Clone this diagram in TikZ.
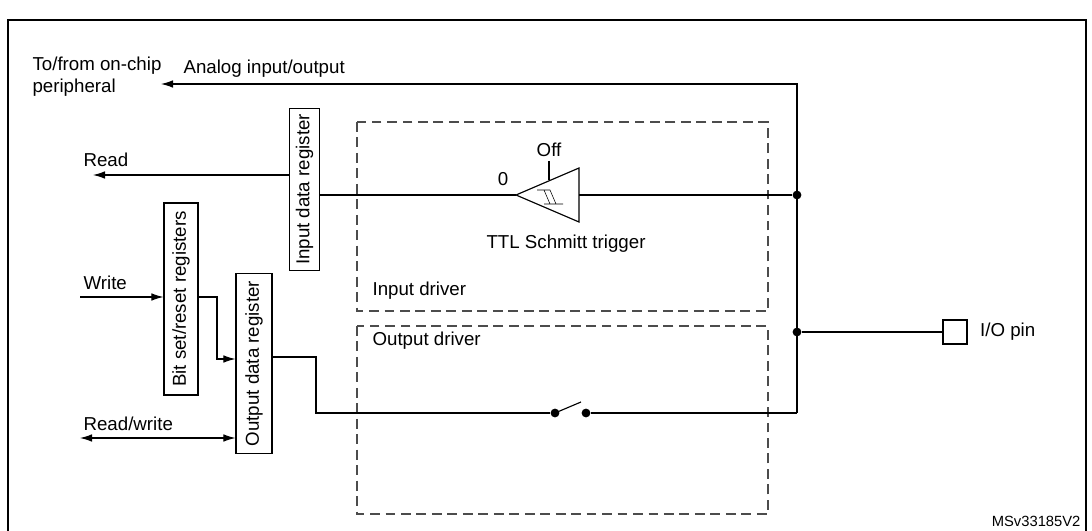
\documentclass[tikz,border=0pt]{standalone}
\usepackage{fontspec}
\setmainfont{Liberation Sans}
\usetikzlibrary{arrows.meta,positioning}
\newcommand{\lbl}{\fontsize{13.3}{16}\selectfont}
\tikzset{
    reg/.style = {draw, thick, inner sep=0pt, font=\lbl},
    drv/.style = {draw, dashed, thick, gray!60!black, dash pattern=on 7pt off 4pt},
    dot/.style = {circle, fill, inner sep=0pt, minimum size=0.22cm},
    txt/.style = {font=\lbl, inner sep=0pt},
    arr/.style = {-{Latex[length=0.3cm,width=0.19cm]}},
}
\begin{document}
\begin{tikzpicture}[x=0.025cm, y=-0.025cm, thick]
    \useasboundingbox (0,0) rectangle (1092,531);
    %frame
        \draw[line width=1.4pt] (8,531) -- (8,20) -- (1086,20) -- (1086,531);
    %driver areas
        \draw[drv] (357,122) rectangle (768,311);
        \draw[drv] (357,326) rectangle (768,514);
        \node[txt, anchor=west] (indrv) at (372,291) {Input driver};
        \node[txt, anchor=west] (outdrv) at (372,341) {Output driver};
    %registers
        \node[reg, minimum width=0.75cm, minimum height=4.03cm] (ireg) at (304.5,189.5) {\rotatebox{90}{Input data register}};
        \node[reg, minimum width=0.85cm, minimum height=4.8cm] (bsr) at (181,299) {\rotatebox{90}{Bit set/reset registers}};
        \node[reg, minimum width=0.9cm, minimum height=4.48cm] (oreg) at (254,363.5) {\rotatebox{90}{Output data register}};
        \node[reg, minimum size=0.6cm] (pin) at (955,332) {};
        \node[txt, right=0.3cm of pin] (pinlbl) {I/O pin};
    %junctions on the pin line
        \node[dot] (jtop) at (797,84) [fill=none, minimum size=0pt] {};
        \node[dot] (jin) at (797,195) {};
        \node[dot] (jpin) at (797,332) {};
        \coordinate (jsw) at (797,413);
    %labels on the left
        \node[txt, anchor=north west, align=left] (chip) at (32,56) {To/from on-chip\\peripheral};
        \node[txt, anchor=west] (alabel) at (183,69) {Analog input/output};
        \node[txt, anchor=west] (rlabel) at (83,160) {Read};
        \node[txt, anchor=west] (wlabel) at (83,283) {Write};
        \node[txt, anchor=west] (rwlabel) at (83,424) {Read/write};
        \coordinate (aend) at (161,84);
        \coordinate (rend) at (93,175);
        \coordinate (wstart) at (80,297);
        \coordinate (rwstart) at (80,438);
    %analog path
        \draw[arr] (jsw) -- (jtop.center) -- (aend);
        \draw (jpin) -- (pin);
    %input path
        \draw[arr] (ireg.west |- rend) -- (rend);
        \coordinate (trig) at (516,195);
        \coordinate (trigout) at (579,195);
        \draw (ireg.east |- trig) -- (trig);
        \draw (trig) -- (579,168) -- (579,222) -- cycle;
        \draw[thin] (537,190) -- (550,190) (544,190) -- (550,204) (550,190) -- (556,204) (544,204) -- (563,204);
        \draw (trigout) -- (jin);
        \coordinate (offtop) at (549,161);
        \draw (offtop) -- (549,180);
        \node[txt, above=0.1cm of offtop] (off) {Off};
        \node[txt] (zero) at (503,179) {0};
        \node[txt] (ttl) at (566,244) {TTL Schmitt trigger};
    %output path
        \draw[arr] (wstart) -- (bsr.west |- wstart);
        \draw[arr] (bsr.east |- wstart) -- (217,297) -- (217,359) -- (oreg.west |- 0,359);
        \draw[{Latex[length=0.3cm,width=0.19cm]}-{Latex[length=0.3cm,width=0.19cm]}] (rwstart) -- (oreg.west |- rwstart);
        \node[dot] (sw1) at (555,413) {};
        \node[dot] (sw2) at (586,413) {};
        \draw (oreg.east |- 0,357) -- (316,357) -- (316,413) -- (sw1);
        \draw (sw1.center) -- (581,402);
        \draw (sw2) -- (jsw);
    %figure id
        \node[font=\fontsize{10.5}{12}\selectfont, anchor=east, inner sep=0pt] (fid) at (1081,521) {MSv33185V2};
\end{tikzpicture}
\end{document}
